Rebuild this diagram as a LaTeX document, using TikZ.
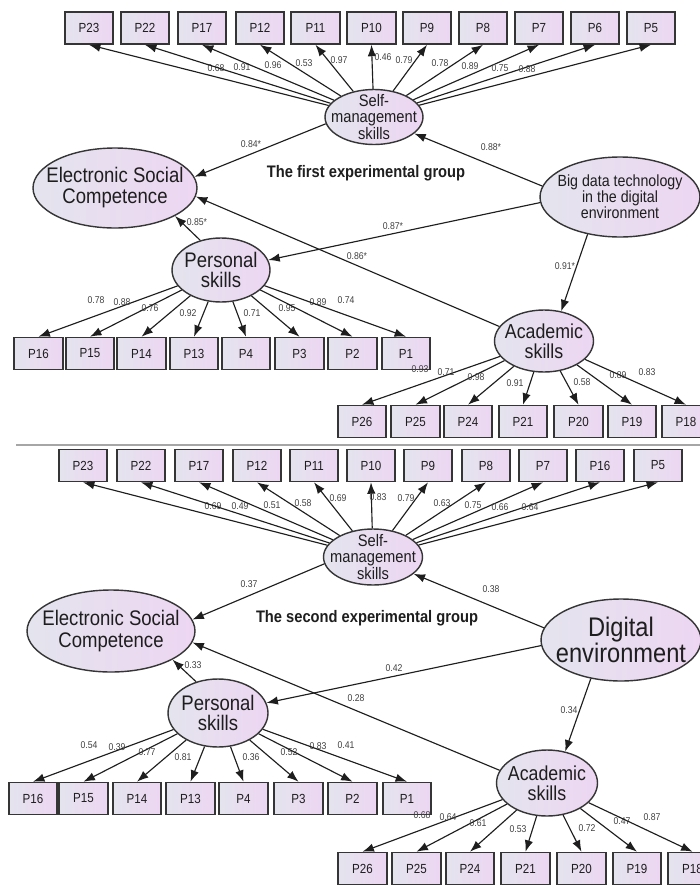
\documentclass[tikz,border=0pt]{standalone}
\usepackage{fontspec}
\newfontfamily\nar{Liberation Sans}[FakeStretch=0.88]
\usetikzlibrary{shapes.geometric,arrows.meta}
\definecolor{lavL}{RGB}{228,228,238}
\definecolor{lavR}{RGB}{237,214,242}
\definecolor{ink}{RGB}{30,30,30}
\tikzset{
  ind/.style={draw=ink!90, line width=0.9pt, left color=lavL, right color=lavR,
    minimum width=0.97cm, minimum height=0.64cm, inner sep=0pt,
    font={\nar\fontsize{7.5}{8}\selectfont}, text=ink},
  lat/.style={ellipse, draw=ink!90, line width=0.8pt, left color=lavL, right color=lavR, inner sep=0pt},
  lattxt/.style={align=center, text=ink, inner sep=0pt},
  coef/.style={font={\nar\fontsize{5.6}{6}\selectfont}, text=ink!85, inner sep=0pt},
  arr/.style={draw=ink, line width=0.65pt, -{Latex[length=6.5pt,width=4.8pt]}},
  ttl/.style={font={\nar\bfseries\fontsize{9.5}{11}\selectfont}, text=ink}
}
\begin{document}
\begin{tikzpicture}[x=0.02cm,y=-0.02cm]
\clip (0,0) rectangle (700,886);
\fill[white] (0,0) rectangle (700,886);

% first experimental group
\node[lat, minimum width=1.96cm, minimum height=1.1cm] (self1) at (374,117) {};
\node[lattxt, font={\nar\fontsize{9.5}{9.2}\selectfont}] (self1t) at (self1) {Self-\\management\\skills};
\node[lat, minimum width=3.28cm, minimum height=1.6cm] (esc1) at (115,188) {};
\node[lattxt, font={\nar\fontsize{12}{12}\selectfont}] (esc1t) at (esc1) {Electronic Social\\Competence};
\node[lat, minimum width=3.2cm, minimum height=1.6cm] (big1) at (620,197) {};
\node[lattxt, font={\nar\fontsize{9.2}{9}\selectfont}] (big1t) at (big1) {Big data technology\\in the digital\\environment};
\node[lat, minimum width=1.96cm, minimum height=1.28cm] (pers1) at (221,270) {};
\node[lattxt, font={\nar\fontsize{12}{11.5}\selectfont}] (pers1t) at (pers1) {Personal\\skills};
\node[lat, minimum width=1.98cm, minimum height=1.24cm] (acad1) at (544,341) {};
\node[lattxt, font={\nar\fontsize{11.5}{11.3}\selectfont}] (acad1t) at (acad1) {Academic\\skills};
\node[ttl] (title1) at (366,173) {The first experimental group};

\foreach \nm/\xx/\val/\lx/\ly [count=\i] in {P23/89/0.68/216/68, P22/145/0.91/242/67,
    P17/202/0.96/273/65, P12/260/0.53/304/63, P11/315.5/0.97/339/60, P10/371.5/0.46/383/57,
    P9/427/0.79/404/60, P8/483/0.78/440/63, P7/539/0.89/470/66, P6/595/0.75/500/68,
    P5/651/0.88/527/69}{
  \node[ind] (s1p\i) at (\xx,28) {\nm};
  \draw[arr] (self1) -- (s1p\i.south);
  \node[coef] (s1v\i) at (\lx,\ly) {\val};
}
\foreach \nm/\xx/\val/\lx/\ly [count=\i] in {P16/38.5/0.78/96/300, P15/90/0.88/122/302,
    P14/141.5/0.76/150/308, P13/194/0.92/188/313, P4/246/0.71/252/313, P3/299.5/0.95/287/308,
    P2/352.5/0.89/318/302, P1/406/0.74/346/300}{
  \node[ind] (p1p\i) at (\xx,353.5) {\nm};
  \draw[arr] (pers1) -- (p1p\i.north);
  \node[coef] (p1v\i) at (\lx,\ly) {\val};
}
\foreach \nm/\xx/\val/\lx/\ly [count=\i] in {P26/362/0.93/420/369, P25/415.5/0.71/446/372,
    P24/468/0.98/476/377, P21/523/0.91/515/383, P20/578.5/0.58/582/382, P19/632/0.89/618/375,
    P18/686/0.83/647/372}{
  \node[ind] (a1p\i) at (\xx,421.5) {\nm};
  \draw[arr] (acad1) -- (a1p\i.north);
  \node[coef] (a1v\i) at (\lx,\ly) {\val};
}

\draw[arr] (self1.188) -- (esc1.8);
\draw[arr] (big1.172) -- (self1);
\draw[arr] (big1.-176) -- (pers1);
\draw[arr] (big1.-131) -- (acad1.60);
\draw[arr] (pers1.125) -- (esc1.-25);
\draw[arr] (acad1.162) -- (esc1.-6);
\node[coef] (c1a) at (251,144) {0.84*};
\node[coef] (c1b) at (491,147) {0.88*};
\node[coef] (c1c) at (393,226) {0.87*};
\node[coef] (c1d) at (357,256) {0.86*};
\node[coef] (c1e) at (197,222) {0.85*};
\node[coef] (c1f) at (565,266) {0.91*};

\draw[black!35, line width=1pt] (16,445) -- (700,445);

% second experimental group
\node[lat, minimum width=1.98cm, minimum height=1.12cm] (self2) at (373,557) {};
\node[lattxt, font={\nar\fontsize{9.5}{9.2}\selectfont}] (self2t) at (self2) {Self-\\management\\skills};
\node[lat, minimum width=3.36cm, minimum height=1.64cm] (esc2) at (111,631) {};
\node[lattxt, font={\nar\fontsize{12}{12}\selectfont}] (esc2t) at (esc2) {Electronic Social\\Competence};
\node[lat, minimum width=3.2cm, minimum height=1.64cm] (dig2) at (621,640) {};
\node[lattxt, font={\nar\fontsize{15.3}{14.5}\selectfont}] (dig2t) at (dig2) {Digital\\environment};
\node[lat, minimum width=2cm, minimum height=1.36cm] (pers2) at (218,713) {};
\node[lattxt, font={\nar\fontsize{12}{11.5}\selectfont}] (pers2t) at (pers2) {Personal\\skills};
\node[lat, minimum width=2.02cm, minimum height=1.32cm] (acad2) at (547,783) {};
\node[lattxt, font={\nar\fontsize{11.5}{11.3}\selectfont}] (acad2t) at (acad2) {Academic\\skills};
\node[ttl] (title2) at (367,618) {The second experimental group};

\foreach \nm/\xx/\val/\lx/\ly [count=\i] in {P23/83/0.69/213/506, P22/141/0.49/240/506,
    P17/199/0.51/272/505, P12/257/0.58/303/503, P11/314/0.69/338/498, P10/371/0.83/378/497,
    P9/428/0.79/406/498, P8/486/0.63/442/503, P7/543/0.75/473/505, P16/600/0.66/500/507,
    P5/658/0.64/530/507}{
  \node[ind] (s2p\i) at (\xx,465.5) {\nm};
  \draw[arr] (self2) -- (s2p\i.south);
  \node[coef] (s2v\i) at (\lx,\ly) {\val};
}
\foreach \nm/\xx/\val/\lx/\ly [count=\i] in {P16/33/0.54/89/745, P15/83.5/0.39/117/747,
    P14/137/0.77/147/752, P13/190.5/0.81/183/757, P4/243.5/0.36/251/757, P3/298.5/0.52/289/752,
    P2/352.5/0.83/318/746, P1/407/0.41/346/745}{
  \node[ind] (p2p\i) at (\xx,798.5) {\nm};
  \draw[arr] (pers2) -- (p2p\i.north);
  \node[coef] (p2v\i) at (\lx,\ly) {\val};
}
\foreach \nm/\xx/\val/\lx/\ly [count=\i] in {P26/362.5/0.68/422/815, P25/416.5/0.64/448/817,
    P24/470/0.61/478/823, P21/525.5/0.53/518/829, P20/581.5/0.72/587/828, P19/637/0.47/622/821,
    P18/692.5/0.87/652/817}{
  \node[ind] (a2p\i) at (\xx,868.5) {\nm};
  \draw[arr] (acad2) -- (a2p\i.north);
  \node[coef] (a2v\i) at (\lx,\ly) {\val};
}

\draw[arr] (self2.188) -- (esc2.8);
\draw[arr] (dig2.171) -- (self2);
\draw[arr] (dig2.-176) -- (pers2);
\draw[arr] (dig2.-128) -- (acad2.60);
\draw[arr] (pers2.125) -- (esc2.-25);
\draw[arr] (acad2.165) -- (esc2.-8);
\node[coef] (c2a) at (249,584) {0.37};
\node[coef] (c2b) at (491,589) {0.38};
\node[coef] (c2c) at (394,668) {0.42};
\node[coef] (c2d) at (356,698) {0.28};
\node[coef] (c2e) at (193,665) {0.33};
\node[coef] (c2f) at (569,710) {0.34};
\end{tikzpicture}
\end{document}
